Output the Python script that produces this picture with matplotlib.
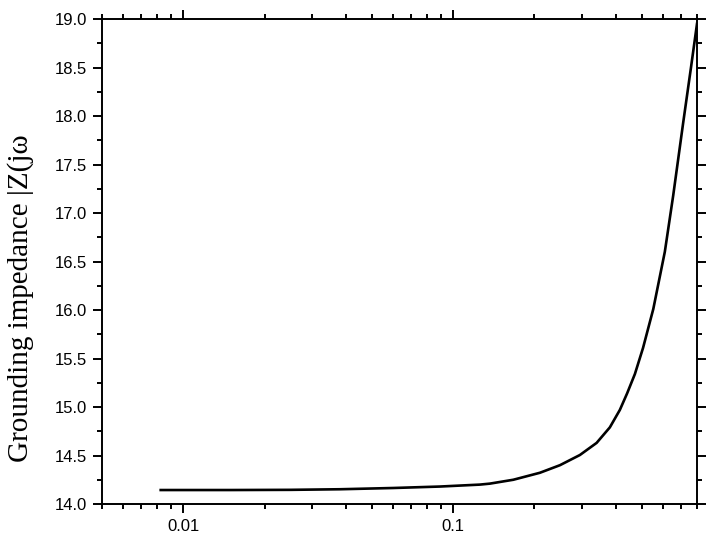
import numpy as np
import matplotlib
matplotlib.use('Agg')
import matplotlib.pyplot as plt
from matplotlib.ticker import FixedLocator, MultipleLocator, FormatStrFormatter, NullFormatter

############################################
# values
freq = [0.00825, 0.015, 0.025, 0.038, 0.06, 0.0893, 0.1256, 0.1367, 0.167,
        0.2095, 0.2485, 0.2946, 0.3398, 0.3804, 0.4143, 0.4407, 0.471, 0.505,
        0.551, 0.608, 0.653, 0.711, 0.76, 0.8]
zmag = [14.144, 14.144, 14.146, 14.152, 14.165, 14.18, 14.20, 14.21, 14.25,
        14.322, 14.40, 14.505, 14.63, 14.79, 14.97, 15.14, 15.34, 15.61,
        16.01, 16.60, 17.18, 17.93, 18.50, 18.95]

x_major = [0.01, 0.1]
x_major_labels = ['0.01', '0.1']
x_minor = [0.005, 0.006, 0.007, 0.008, 0.009,
           0.02, 0.03, 0.04, 0.05, 0.06, 0.07, 0.08, 0.09,
           0.2, 0.3, 0.4, 0.5, 0.6, 0.7, 0.8]
ylabel = 'Grounding impedance |Z(j\u03c9'
############################################

fig = plt.figure(figsize=(7.07, 5.40), dpi=100)
ax = fig.add_axes([102/707, 1-504/540, 595/707, 485/540])

ax.plot(freq, zmag, color='black', linewidth=1.9, solid_joinstyle='round')

ax.set_xscale('log')
ax.set_xlim(0.005, 0.8)
ax.set_ylim(14.0, 19.0)

ax.xaxis.set_major_locator(FixedLocator(x_major))
ax.set_xticklabels(x_major_labels)
ax.xaxis.set_minor_locator(FixedLocator(x_minor))
ax.xaxis.set_minor_formatter(NullFormatter())
ax.yaxis.set_major_locator(MultipleLocator(0.5))
ax.yaxis.set_minor_locator(MultipleLocator(0.25))
ax.yaxis.set_major_formatter(FormatStrFormatter('%.1f'))

for s in ax.spines.values():
    s.set_linewidth(1.4)

ax.tick_params(which='both', direction='out', top=True, right=True,
               labeltop=False, labelright=False, width=1.4, colors='black')
ax.tick_params(which='major', length=6.5, pad=4.5, labelsize=12)
ax.tick_params(which='minor', length=3.5)
for lab in ax.get_xticklabels() + ax.get_yticklabels():
    lab.set_family('Liberation Sans')

fig.text(21/707, 1-298/540, ylabel, rotation=90, ha='center', va='center',
         family='Liberation Serif', fontsize=21)

plt.savefig('out.png', dpi=100)
